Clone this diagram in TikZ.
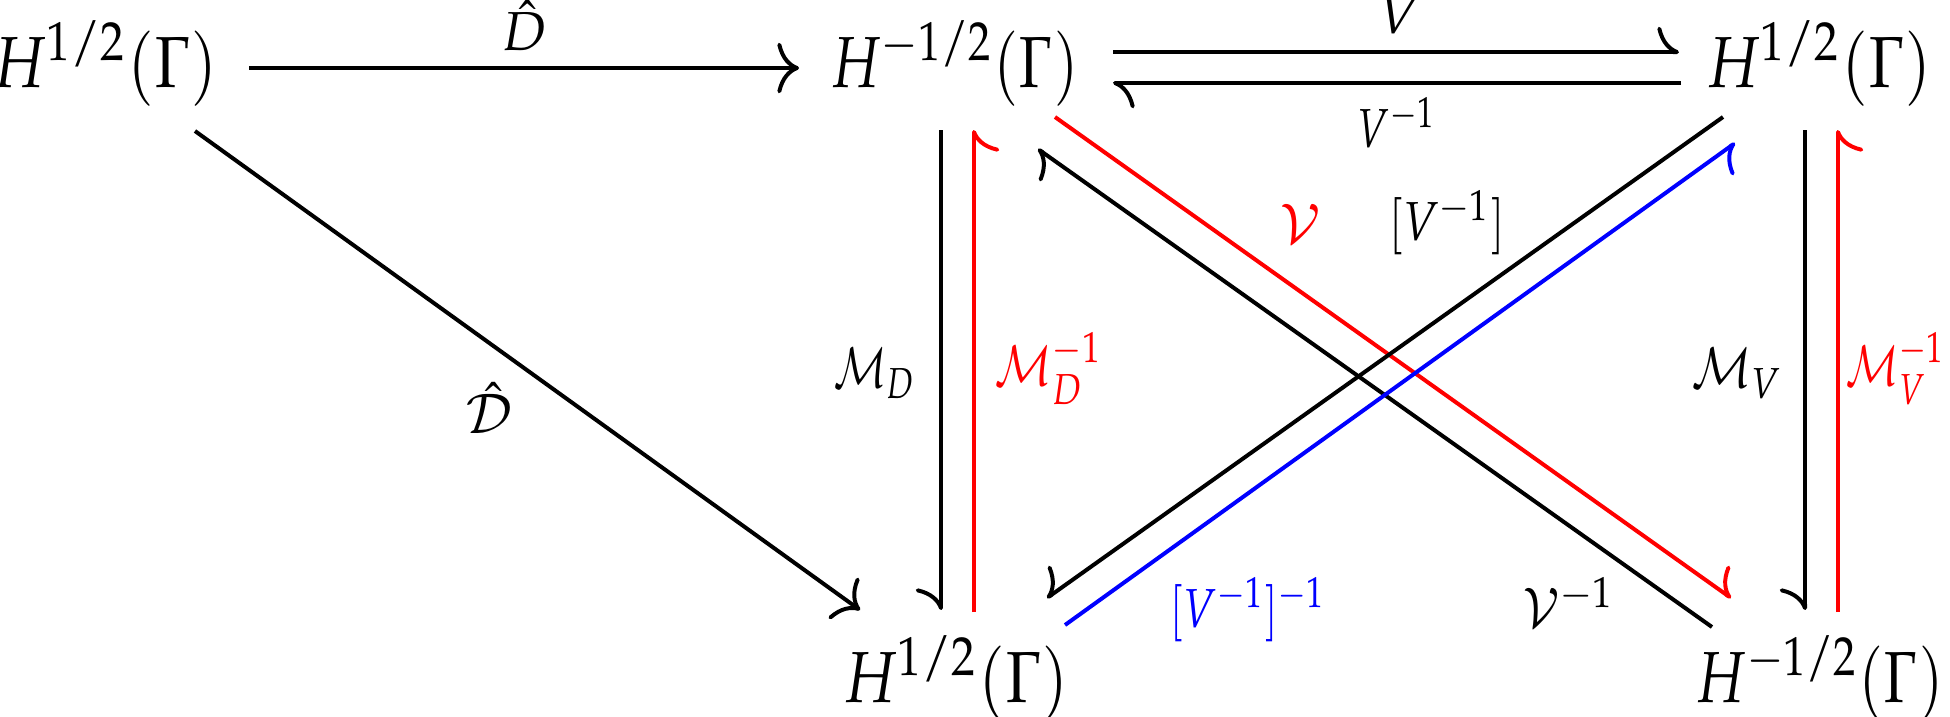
\documentclass[tikz,border=0pt]{standalone}
\usepackage{mathpazo}
\usepackage{graphicx}
\usetikzlibrary{arrows.meta}
\definecolor{cred}{RGB}{255,0,0}
\definecolor{cblue}{RGB}{0,0,255}
\newcommand{\hsq}[2]{\scalebox{#1}[1]{#2}}
\tikzset{
  obj/.style={anchor=base, inner sep=0pt, outer sep=0pt},
  lab/.style={inner sep=0pt, outer sep=0pt},
  conn/.style={line width=0.55pt},
  full/.style={conn, -{Computer Modern Rightarrow[length=3pt,width=7pt]}},
  hl/.style={conn, -{Computer Modern Rightarrow[length=3pt,width=7pt,harpoon]}},
  hr/.style={conn, -{Computer Modern Rightarrow[length=3pt,width=7pt,harpoon,swap]}},
}
\begin{document}
\begin{tikzpicture}[x=0.1383pt, y=-0.1383pt]
\useasboundingbox (0,0) rectangle (1950,716);
% objects
\node[obj] (A) at (105,87) {\hsq{0.865}{$H^{1/2}(\Gamma)$}};
\node[obj] (B) at (954.5,87) {\hsq{0.81}{$H^{-1/2}(\Gamma)$}};
\node[obj] (C) at (1819,87) {\hsq{0.865}{$H^{1/2}(\Gamma)$}};
\node[obj] (D) at (956,702) {\hsq{0.865}{$H^{1/2}(\Gamma)$}};
\node[obj] (E) at (1819.5,702) {\hsq{0.81}{$H^{-1/2}(\Gamma)$}};
% connector ends
\coordinate (A-e) at (249,68);   \coordinate (B-w) at (799,68);
\coordinate (B-e1) at (1113,52); \coordinate (C-w1) at (1679,52);
\coordinate (C-w2) at (1681,83); \coordinate (B-e2) at (1113,83);
\coordinate (A-s) at (195,131);  \coordinate (D-nw) at (860,610);
\coordinate (B-s1) at (941,130); \coordinate (D-n1) at (941,610);
\coordinate (D-n2) at (974,612); \coordinate (B-s2) at (974,130);
\coordinate (C-s1) at (1805,130); \coordinate (E-n1) at (1805,610);
\coordinate (E-n2) at (1838,612); \coordinate (C-s2) at (1838,130);
\coordinate (B-se1) at (1055,117); \coordinate (E-nw1) at (1731,598);
\coordinate (E-nw2) at (1712,627); \coordinate (B-se2) at (1038,149);
\coordinate (C-sw1) at (1723,117); \coordinate (D-ne1) at (1047,598);
\coordinate (D-ne2) at (1065,625); \coordinate (C-sw2) at (1735,143);
% connectors
\draw[full] (A-e) -- (B-w);
\draw[hl] (B-e1) -- (C-w1);
\draw[hl] (C-w2) -- (B-e2);
\draw[full] (A-s) -- (D-nw);
\draw[hr] (B-s1) -- (D-n1);
\draw[hr, cred] (D-n2) -- (B-s2);
\draw[hr] (C-s1) -- (E-n1);
\draw[hr, cred] (E-n2) -- (C-s2);
\draw[hl, cred] (B-se1) -- (E-nw1);
\draw[hl] (E-nw2) -- (B-se2);
\draw[hr] (C-sw1) -- (D-ne1);
\draw[hr, cblue] (D-ne2) -- (C-sw2);
% labels
\node[lab, anchor=base] (lDh) at (525,50) {$\scriptstyle \hat{D}$};
\node[lab, anchor=base] (lV) at (1400,33) {$\scriptstyle V$};
\node[lab, anchor=base] (lVi) at (1397,147) {\hsq{0.75}{$\scriptstyle V^{-1}$}};
\node[lab, anchor=base] (lDc) at (489,433) {$\scriptstyle \hat{\mathcal{D}}$};
\node[lab, anchor=base east] (lMD) at (917,387) {\hsq{0.76}{$\scriptstyle \mathcal{M}_D$}};
\node[lab, anchor=base west, text=cred] (lMDi) at (995,385) {\hsq{0.82}{$\scriptstyle \mathcal{M}_D^{-1}$}};
\node[lab, anchor=base east] (lMV) at (1784,387) {\hsq{0.86}{$\scriptstyle \mathcal{M}_V$}};
\node[lab, anchor=base east, text=cred] (lMVi) at (1946,385) {\hsq{0.76}{$\scriptstyle \mathcal{M}_V^{-1}$}};
\node[lab, anchor=base, text=cred] (lVc) at (1300,243) {$\scriptstyle \mathcal{V}$};
\node[lab, anchor=base] (lVb) at (1447,240) {\hsq{0.84}{$\scriptstyle [V^{-1}]$}};
\node[lab, anchor=base west, text=cblue] (lVbi) at (1170,627) {\hsq{0.78}{$\scriptstyle [V^{-1}]^{-1}$}};
\node[lab, anchor=base west] (lVci) at (1523,627) {\hsq{0.9}{$\scriptstyle \mathcal{V}^{-1}$}};
\end{tikzpicture}
\end{document}
